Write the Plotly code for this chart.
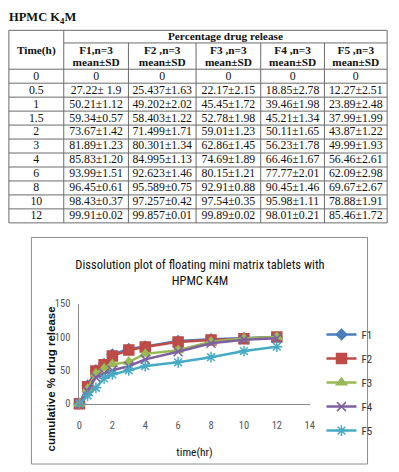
import plotly.graph_objects as go

W, H = 399, 472

# ---------------- data ----------------
time_labels = ["0", "0.5", "1", "1.5", "2", "3", "4", "6", "8", "10", "12"]
time_h = [0, 0.5, 1, 1.5, 2, 3, 4, 6, 8, 10, 12]

f1_mean = [0, 27.22, 50.21, 59.34, 73.67, 81.89, 85.83, 93.99, 96.45, 98.43, 99.91]
f1_sd = ["", " 1.9", "1.12", "0.57", "1.42", "1.23", "1.20", "1.51", "0.61", "0.37", "0.02"]
f1_txt = ["0", "27.22", "50.21", "59.34", "73.67", "81.89", "85.83", "93.99", "96.45", "98.43", "99.91"]

f2_mean = [0, 25.437, 49.202, 58.403, 71.499, 80.301, 84.995, 92.623, 95.589, 97.257, 99.857]
f2_sd = ["", "1.63", "2.02", "1.22", "1.71", "1.34", "1.13", "1.46", "0.75", "0.42", "0.01"]
f2_txt = ["0", "25.437", "49.202", "58.403", "71.499", "80.301", "84.995", "92.623", "95.589", "97.257", "99.857"]

f3_mean = [0, 22.17, 45.45, 52.78, 59.01, 62.86, 74.69, 80.15, 92.91, 97.54, 99.89]
f3_sd = ["", "2.15", "1.72", "1.98", "1.23", "1.45", "1.89", "1.21", "0.88", "0.35", "0.02"]
f3_txt = ["0", "22.17", "45.45", "52.78", "59.01", "62.86", "74.69", "80.15", "92.91", "97.54", "99.89"]

f4_mean = [0, 18.85, 39.46, 45.21, 50.11, 56.23, 66.46, 77.77, 90.45, 95.98, 98.01]
f4_sd = ["", "2.78", "1.98", "1.34", "1.65", "1.78", "1.67", "2.01", "1.46", "1.11", "0.21"]
f4_txt = ["0", "18.85", "39.46", "45.21", "50.11", "56.23", "66.46", "77.77", "90.45", "95.98", "98.01"]

f5_mean = [0, 12.27, 23.89, 37.99, 43.87, 49.99, 56.46, 62.09, 69.67, 78.88, 85.46]
f5_sd = ["", "2.51", "2.48", "1.99", "1.22", "1.93", "2.61", "2.98", "2.67", "1.91", "1.72"]
f5_txt = ["0", "12.27", "23.89", "37.99", "43.87", "49.99", "56.46", "62.09", "69.67", "78.88", "85.46"]

series_names = ["F1", "F2", "F3", "F4", "F5"]
col_headers = ["F1,n=3", "F2 ,n=3", "F3 ,n=3", "F4 ,n=3", "F5 ,n=3"]

# ---------------- styles ----------------
colors = ["#4A7EBB", "#BE4B48", "#98B954", "#7D60A0", "#46AAC5"]
symbols = ["diamond", "square", "triangle-up", "x-thin-open", "asterisk-open"]
msizes = [8, 10, 9, 9, 9]

serif = "Liberation Serif, Times New Roman, serif"
narrow = "Liberation Sans Narrow, Arial Narrow, Roboto Condensed, Roboto, sans-serif"
sans = "Liberation Sans, Arial, sans-serif"

fig = go.Figure()

means = [f1_mean, f2_mean, f3_mean, f4_mean, f5_mean]
for name, m, c, s, ms in zip(series_names, means, colors, symbols, msizes):
    fig.add_trace(go.Scatter(
        x=time_h, y=m, name=name, mode="lines+markers",
        line=dict(color=c, width=2.5),
        marker=dict(symbol=s, size=ms, color=c, line=dict(color=c, width=1.5)),
        cliponaxis=False, legendgroup=name,
        xaxis="x", yaxis="y",
    ))

# ---------------- table (pixel-like axes x2/y2) ----------------
col_edges = [6, 62, 128, 197, 263, 328, 392]
top = 25
hdr1_bottom = 38
hdr2_bottom = 65
row_h = (223 - 65) / len(time_labels)

cell_x, cell_y, cell_t = [], [], []
txts = [f1_txt, f2_txt, f3_txt, f4_txt, f5_txt]
sds = [f1_sd, f2_sd, f3_sd, f4_sd, f5_sd]
for i, tl in enumerate(time_labels):
    yc = hdr2_bottom + (i + 0.5) * row_h + 0.5
    cell_x.append((col_edges[0] + col_edges[1]) / 2)
    cell_y.append(yc)
    cell_t.append(tl)
    for j in range(5):
        xc = (col_edges[j + 1] + col_edges[j + 2]) / 2
        t = txts[j][i] if sds[j][i] == "" else f"{txts[j][i]}±{sds[j][i]}"
        cell_x.append(xc)
        cell_y.append(yc)
        cell_t.append(t)

fig.add_trace(go.Scatter(
    x=cell_x, y=cell_y, text=cell_t, mode="text",
    textfont=dict(family=serif, size=11.8, color="#111"),
    xaxis="x2", yaxis="y2", showlegend=False, hoverinfo="skip",
))

# header texts
hx, hy, ht = [], [], []
hx.append((col_edges[0] + col_edges[1]) / 2); hy.append((top + hdr2_bottom) / 2 + 1); ht.append("<b>Time(h)</b>")
hx.append((col_edges[1] + col_edges[-1]) / 2); hy.append((top + hdr1_bottom) / 2 + 0.5); ht.append("<b>Percentage drug release</b>")
for j, h in enumerate(col_headers):
    xc = (col_edges[j + 1] + col_edges[j + 2]) / 2
    hx.append(xc); hy.append(hdr1_bottom + 8); ht.append(f"<b>{h}</b>")
    hx.append(xc); hy.append(hdr1_bottom + 20.5); ht.append("<b>mean±SD</b>")
fig.add_trace(go.Scatter(
    x=hx, y=hy, text=ht, mode="text",
    textfont=dict(family=serif, size=11.3, color="#111"),
    xaxis="x2", yaxis="y2", showlegend=False, hoverinfo="skip",
))

shapes = []
lc = dict(color="#6b6b6b", width=1)
bottom = hdr2_bottom + row_h * len(time_labels)
# horizontal lines
shapes.append(dict(type="line", xref="x2", yref="y2", x0=col_edges[0], x1=col_edges[-1], y0=top, y1=top, line=lc))
shapes.append(dict(type="line", xref="x2", yref="y2", x0=col_edges[1], x1=col_edges[-1], y0=hdr1_bottom, y1=hdr1_bottom, line=lc))
for i in range(len(time_labels) + 1):
    yy = hdr2_bottom + i * row_h
    shapes.append(dict(type="line", xref="x2", yref="y2", x0=col_edges[0], x1=col_edges[-1], y0=yy, y1=yy, line=lc))
# vertical lines
for k, xx in enumerate(col_edges):
    y0 = hdr1_bottom if 2 <= k <= 5 else top
    shapes.append(dict(type="line", xref="x2", yref="y2", x0=xx, x1=xx, y0=y0, y1=bottom, line=lc))

# chart box
shapes.append(dict(type="rect", xref="paper", yref="paper",
                   x0=29 / W, x1=372 / W, y0=1 - 471 / H, y1=1 - 238 / H,
                   line=dict(color="#8c8c8c", width=1), layer="below"))

annotations = [
    dict(text="<b>HPMC K<sub>4</sub>M</b>", xref="x2", yref="y2", x=4, y=12,
         xanchor="left", yanchor="middle", showarrow=False,
         font=dict(family=serif, size=12.5, color="#111")),
    dict(text="<b>cumulative % drug release</b>", xref="x2", yref="y2", x=49, y=384,
         xanchor="center", yanchor="middle", showarrow=False, textangle=-90,
         font=dict(family=sans, size=11.5, color="#111")),
]

fig.update_layout(
    width=W, height=H,
    margin=dict(l=0, r=0, t=0, b=0),
    paper_bgcolor="white", plot_bgcolor="rgba(0,0,0,0)",
    title=dict(text="Dissolution plot of floating mini matrix tablets with<br>HPMC K4M",
               x=200 / W, xanchor="center", y=1 - 269 / H, yanchor="middle",
               yref="container",
               font=dict(family=narrow, size=12.5, color="#111")),
    xaxis=dict(domain=[78 / W, 313 / W], range=[0, 14], dtick=2, tick0=0,
               showgrid=False, zeroline=False, showline=True, linecolor="#8a8a8a", linewidth=1,
               ticks="", ticklabelstandoff=12,
               tickfont=dict(family=narrow, size=10.5, color="#555"),
               title=dict(text="time(hr)", font=dict(family=narrow, size=11.5, color="#111"), standoff=16),
               anchor="y"),
    yaxis=dict(domain=[1 - 409 / H, 1 - 306 / H], range=[0, 150], dtick=50, tick0=0,
               showgrid=False, zeroline=False, showline=True, linecolor="#8a8a8a", linewidth=1,
               ticks="", ticklabelstandoff=6,
               tickfont=dict(family=narrow, size=10.5, color="#555"),
               anchor="x"),
    xaxis2=dict(domain=[0, 1], range=[0, W], visible=False, anchor="y2", fixedrange=True),
    yaxis2=dict(domain=[0, 1], range=[H, 0], visible=False, anchor="x2", fixedrange=True),
    legend=dict(x=325 / W, y=1 - 323 / H, xanchor="left", yanchor="top",
                font=dict(family=narrow, size=11, color="#333"),
                traceorder="grouped", tracegroupgap=5, itemwidth=30,
                bgcolor="rgba(0,0,0,0)"),
    shapes=shapes,
    annotations=annotations,
    showlegend=True,
)

fig.write_html("out.html")
